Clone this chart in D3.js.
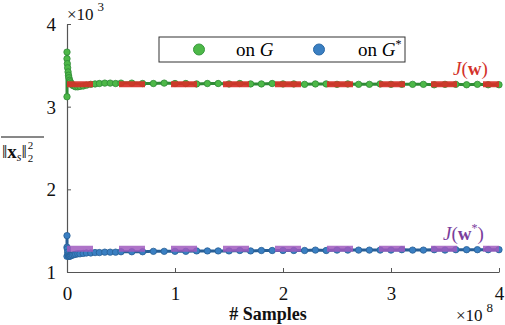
<!DOCTYPE html>
<html>
<head>
<meta charset="utf-8">
<script src="https://cdn.jsdelivr.net/npm/d3@7"></script>
</head>
<body style="margin:0">
<svg id="chart" width="505" height="325"></svg>
<script>
// Number of samples, in units of 1e8.
const samples = [0, 0, 0, 0.003, 0.006, 0.01, 0.014, 0.018, 0.024, 0.03, 0.04, 0.05, 0.065,
    0.08, 0.1, 0.12, 0.15, 0.18, 0.22, 0.26, 0.3, 0.35, 0.4, 0.45, 0.5,
    0.6, 0.7, 0.8, 0.9, 1.0, 1.1, 1.2, 1.3, 1.4, 1.5, 1.6, 1.7, 1.8, 1.9, 2.0,
    2.1, 2.2, 2.3, 2.4, 2.5, 2.6, 2.7, 2.8, 2.9, 3.0, 3.1, 3.2, 3.3, 3.4, 3.5,
    3.6, 3.7, 3.8, 3.9, 4.0];

// Mean squared norm (x 1e3) measured on G.
const onG = [3.12, 3.66, 3.58, 3.52, 3.47, 3.42, 3.38, 3.35, 3.32, 3.30, 3.28, 3.26, 3.25,
    3.24, 3.24, 3.245, 3.25, 3.26, 3.27, 3.275, 3.28, 3.285, 3.285, 3.28, 3.285,
    3.285, 3.28, 3.28, 3.285, 3.28, 3.28, 3.275, 3.28, 3.28, 3.275, 3.28, 3.275, 3.275, 3.28,
    3.275, 3.275, 3.27, 3.275, 3.275, 3.27, 3.275, 3.27, 3.27, 3.275, 3.27, 3.27, 3.27, 3.27,
    3.265, 3.27, 3.27, 3.265, 3.27, 3.265, 3.265];

// Mean squared norm (x 1e3) measured on G*.
const onGStar = [1.44, 1.30, 1.19, 1.28, 1.24, 1.21, 1.195, 1.19, 1.19, 1.195, 1.20, 1.205, 1.21,
    1.215, 1.22, 1.22, 1.225, 1.23, 1.23, 1.235, 1.235, 1.24, 1.24, 1.24, 1.245,
    1.245, 1.245, 1.25, 1.25, 1.25, 1.25, 1.255, 1.255, 1.255, 1.255, 1.26, 1.255, 1.26, 1.26,
    1.26, 1.26, 1.26, 1.265, 1.26, 1.265, 1.265, 1.265, 1.265, 1.265, 1.265, 1.27, 1.265, 1.265,
    1.27, 1.265, 1.27, 1.27, 1.27, 1.27, 1.27];

// Theoretical levels J(w) and J(w*).
const jW = 3.27;
const jWStar = 1.28;

const xTicks = [0, 1, 2, 3, 4];
const yTicks = [1, 2, 3, 4];

const svg = d3.select("#chart");

const x = d3.scaleLinear().domain([0, 4]).range([67, 499]);
const y = d3.scaleLinear().domain([1, 4]).range([272, 24]);

// axes, ticks pointing inwards
const xAxis = d3.axisBottom(x).tickValues(xTicks).tickFormat(d3.format("d"))
    .tickSizeInner(-4).tickSizeOuter(0).tickPadding(15);
const yAxis = d3.axisLeft(y).tickValues(yTicks).tickFormat(d3.format("d"))
    .tickSizeInner(-4).tickSizeOuter(0).tickPadding(11);

const gX = svg.append("g").attr("transform", `translate(0,${y(1)})`).call(xAxis);
const gY = svg.append("g").attr("transform", `translate(${x(0)},0)`).call(yAxis);

[gX, gY].forEach(g => {
    g.attr("font-family", "Liberation Serif").attr("font-size", 19);
    g.select(".domain").attr("stroke", "#555").attr("stroke-width", 1.2);
    g.selectAll(".tick line").attr("stroke", "#555");
    g.selectAll(".tick text").attr("fill", "#111");
});
gY.selectAll(".tick text").attr("dy", "0.34em");

// a series: thick joining line, then dots
function drawSeries(values, fill, stroke) {
    const pts = samples.map((s, i) => [s, values[i]]);
    svg.append("path")
        .datum(pts)
        .attr("fill", "none")
        .attr("stroke", stroke)
        .attr("stroke-width", 3)
        .attr("d", d3.line().x(d => x(d[0])).y(d => y(d[1])));
    svg.append("g").selectAll("circle")
        .data(pts)
        .join("circle")
        .attr("cx", d => x(d[0]))
        .attr("cy", d => y(d[1]))
        .attr("r", 3.2)
        .attr("fill", fill)
        .attr("stroke", stroke)
        .attr("stroke-width", 0.8);
}

function drawLevel(level, color) {
    svg.append("line")
        .attr("x1", x(0)).attr("x2", x(4))
        .attr("y1", y(level)).attr("y2", y(level))
        .attr("stroke", color)
        .attr("stroke-width", 6)
        .attr("stroke-dasharray", "26,26");
}

drawSeries(onG, "#4db848", "#2f8a36");
drawLevel(jW, "rgba(214,48,40,0.92)");
drawSeries(onGStar, "#3a7fc2", "#285f96");
drawLevel(jWStar, "rgba(160,90,190,0.85)");

// legend
const legend = svg.append("g");
legend.append("rect")
    .attr("x", 159).attr("y", 37).attr("width", 246).attr("height", 25)
    .attr("fill", "#fff").attr("stroke", "#333").attr("stroke-width", 1);
legend.append("circle").attr("cx", 199).attr("cy", 49.5).attr("r", 5.5)
    .attr("fill", "#4db848").attr("stroke", "#3a9a40");
legend.append("circle").attr("cx", 319).attr("cy", 49.5).attr("r", 5.5)
    .attr("fill", "#3a7fc2").attr("stroke", "#2d6aa6");
const lg1 = legend.append("text").attr("x", 236).attr("y", 56).attr("font-size", 19);
lg1.append("tspan").text("on ");
lg1.append("tspan").attr("font-style", "italic").text("G");
const lg2 = legend.append("text").attr("x", 358).attr("y", 56).attr("font-size", 19);
lg2.append("tspan").text("on ");
lg2.append("tspan").attr("font-style", "italic").text("G");
lg2.append("tspan").attr("font-size", 12).attr("dy", -8).text("*");

// J(w) labels
const jw = svg.append("text").attr("x", 453).attr("y", 75).attr("font-size", 19).attr("fill", "#d3322a");
jw.append("tspan").attr("font-style", "italic").text("J");
jw.append("tspan").text("(");
jw.append("tspan").attr("font-weight", "bold").text("w");
jw.append("tspan").text(")");

const jws = svg.append("text").attr("x", 443).attr("y", 240).attr("font-size", 19).attr("fill", "#7a3d9c");
jws.append("tspan").attr("font-style", "italic").text("J");
jws.append("tspan").text("(");
jws.append("tspan").attr("font-weight", "bold").text("w");
jws.append("tspan").attr("font-size", 12).attr("dy", -8).text("*");
jws.append("tspan").attr("dy", 8).text(")");

// scale multipliers
const m3 = svg.append("text").attr("x", 67).attr("y", 20).attr("font-size", 17).attr("fill", "#111");
m3.append("tspan").text("\u00d710");
m3.append("tspan").attr("font-size", 13).attr("dx", 4).attr("dy", -9).text("3");
const m8 = svg.append("text").attr("x", 456).attr("y", 321).attr("font-size", 17).attr("fill", "#111");
m8.append("tspan").text("\u00d710");
m8.append("tspan").attr("font-size", 13).attr("dx", 4).attr("dy", -9).text("8");

// axis titles
svg.append("text")
    .attr("x", 268).attr("y", 320)
    .attr("text-anchor", "middle")
    .attr("font-size", 18).attr("font-weight", "bold").attr("fill", "#111")
    .text("# Samples");

const yl = svg.append("text").attr("x", 2).attr("y", 158).attr("font-size", 19).attr("fill", "#111");
yl.append("tspan").text("\u2016");
yl.append("tspan").attr("font-weight", "bold").text("x");
yl.append("tspan").attr("font-size", 12).attr("font-style", "italic").attr("dy", 3).text("s");
yl.append("tspan").attr("dy", -3).text("\u2016");

const yl2a = svg.append("text").attr("y", 149).attr("font-size", 11).attr("fill", "#111").text("2");
const yl2b = svg.append("text").attr("y", 162).attr("font-size", 11).attr("fill", "#111").text("2");

// serif on every text element
svg.selectAll("text")
    .attr("font-family", "Liberation Serif")
    .style("font-family", '"Liberation Serif"');

const ylEnd = 2 + yl.node().getComputedTextLength();
yl2a.attr("x", ylEnd + 1);
yl2b.attr("x", ylEnd + 1);
svg.append("line")
    .attr("x1", 1).attr("x2", Math.max(44, ylEnd + 8)).attr("y1", 137).attr("y2", 137)
    .attr("stroke", "#111").attr("stroke-width", 1);
</script>
</body>
</html>
